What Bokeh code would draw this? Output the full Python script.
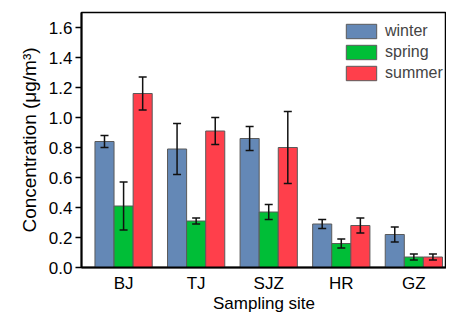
import numpy as np
from bokeh.plotting import figure
from bokeh.models import ColumnDataSource, Whisker, TeeHead, FixedTicker, Range1d, NumeralTickFormatter, Legend, LegendItem
from bokeh.embed import file_html
from bokeh.resources import INLINE

sites = ["BJ", "TJ", "SJZ", "HR", "GZ"]
seasons = ["winter", "spring", "summer"]
winter = [0.84, 0.79, 0.86, 0.29, 0.22]
winter_err = [0.04, 0.17, 0.08, 0.03, 0.05]
spring = [0.41, 0.31, 0.37, 0.16, 0.07]
spring_err = [0.16, 0.02, 0.05, 0.03, 0.02]
summer = [1.16, 0.91, 0.80, 0.28, 0.07]
summer_err = [0.11, 0.09, 0.24, 0.05, 0.02]
colors = ["#6488B6", "#00BE37", "#FF3F4B"]
y_ticks = [0.0, 0.2, 0.4, 0.6, 0.8, 1.0, 1.2, 1.4, 1.6]

FONT = "Liberation Sans"
bar_w = 0.263
xpos = np.arange(1, len(sites) + 1)

p = figure(width=446, height=315, output_backend="svg", toolbar_location=None,
           x_range=Range1d(0.42, 5.45), y_range=Range1d(0, 1.70),
           min_border_left=81, min_border_top=12, min_border_bottom=0, min_border_right=0)
p.grid.visible = False
p.outline_line_color = "black"
p.outline_line_width = 1.5

items = []
for i, (name, vals, errs) in enumerate(zip(seasons, [winter, spring, summer], [winter_err, spring_err, summer_err])):
    xs = xpos + (i - 1) * bar_w
    v = np.array(vals)
    e = np.array(errs)
    src = ColumnDataSource(dict(x=xs, top=v, upper=v + e, lower=v - e))
    r = p.vbar(x="x", top="top", width=bar_w, source=src, fill_color=colors[i],
               line_color="#5a5a5a", line_width=1)
    items.append(LegendItem(label=name, renderers=[r]))
    w = Whisker(base="x", upper="upper", lower="lower", source=src, level="overlay",
                line_color="#111111", line_width=1.5,
                upper_head=TeeHead(size=8, line_color="#111111", line_width=1.5),
                lower_head=TeeHead(size=8, line_color="#111111", line_width=1.5))
    p.add_layout(w)

legend = Legend(items=items, location=(261, 185), padding=0, margin=0,
                border_line_color=None, background_fill_alpha=0,
                glyph_width=38, glyph_height=18, label_height=18, spacing=3,
                label_text_font=FONT, label_text_font_size="16px", label_standoff=5)
p.add_layout(legend)

p.xaxis.ticker = FixedTicker(ticks=list(xpos))
p.xaxis.major_label_overrides = {int(k): s for k, s in zip(xpos, sites)}
p.xaxis.major_tick_line_color = None
p.xaxis.major_tick_out = 0
p.xaxis.major_tick_in = 0
p.xaxis.minor_tick_line_color = None
p.yaxis.ticker = FixedTicker(ticks=y_ticks)
p.yaxis.formatter = NumeralTickFormatter(format="0.0")
p.yaxis.minor_tick_line_color = None
p.yaxis.major_tick_out = 6
p.yaxis.major_tick_in = 0
p.yaxis.major_tick_line_width = 1.5

for ax in (p.xaxis, p.yaxis):
    ax.axis_line_width = 2
    ax.axis_line_color = "black"
    ax.major_label_text_font = FONT
    ax.major_label_text_font_size = "17px"
    ax.major_label_text_color = "black"
    ax.axis_label_text_font = FONT
    ax.axis_label_text_font_style = "normal"
    ax.axis_label_text_color = "black"

p.xaxis.axis_label = "Sampling site"
p.xaxis.axis_label_text_font_size = "17px"
p.xaxis.axis_label_standoff = -2
p.xaxis.major_label_standoff = 6
p.yaxis.axis_label = "Concentration (μg/m³)"
p.yaxis.axis_label_text_font_size = "19px"
p.yaxis.axis_label_standoff = 6
p.yaxis.major_label_standoff = 3

open("out.html", "w").write(file_html(p, INLINE))
